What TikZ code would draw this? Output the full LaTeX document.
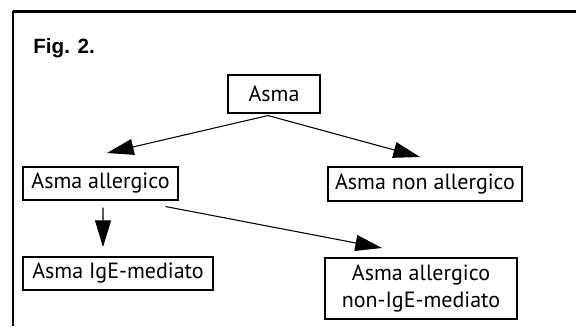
\documentclass[tikz,border=0pt]{standalone}
\usepackage{fontspec}
\setsansfont{PT Sans}
\newfontfamily\figfont{Liberation Sans}
\usepackage{tikz}
\usetikzlibrary{arrows.meta,positioning,calc}

\begin{document}
\begin{tikzpicture}[x=0.75pt, y=-0.75pt,
    font=\sffamily\fontsize{16.5}{20}\selectfont,
    box/.style={draw, line width=0.8pt, inner sep=0pt, align=center},
    arr/.style={-{Triangle[length=20pt,width=12pt]}, line width=0.8pt}]
  \useasboundingbox (0,0) rectangle (576,326);
  % Frame
  \draw[line width=2.2pt] (12.5,11.5) -- (576,11.5);
  \draw[line width=1pt] (13,10.5) -- (13,326);
  \node[anchor=base west, inner sep=0pt, font=\figfont\bfseries\fontsize{15.5}{17}\selectfont] (fig) at (33,53) {Fig. 2.};
  % Boxes
  \node[box, minimum width=69pt, minimum height=28.5pt] (asma) at (274,94) {Asma};
  \node[box, minimum width=116.25pt, minimum height=24.75pt] (allergico) at (100.5,183.5) {Asma allergico};
  \node[box, minimum width=145.5pt, minimum height=25.5pt] (nonallergico) at (425,184) {Asma non allergico};
  \node[box, minimum width=142.5pt, minimum height=24.75pt] (ige) at (118,273.5) {Asma IgE-mediato};
  \node[box, minimum width=144pt, minimum height=45.75pt] (nonige) at (421,288.5) {Asma allergico\\non-IgE-mediato};
  % Arrow tips
  \coordinate (tipL) at (107,153);
  \coordinate (tipR) at (420,157);
  \coordinate (tipD) at (103,247);
  \coordinate (tipN) at (382,248);
  % Arrows
  \draw[arr] ([xshift=-4.5pt,yshift=-1.5pt]asma.south) -- (tipL);
  \draw[arr] ([xshift=-4.5pt,yshift=-1.5pt]asma.south) -- (tipR);
  \draw[arr] ([xshift=1.9pt,yshift=-5.25pt]allergico.south) -- (tipD);
  \draw[arr] ([xshift=-9.75pt,yshift=-4.5pt]allergico.south east) -- (tipN);
\end{tikzpicture}
\end{document}
